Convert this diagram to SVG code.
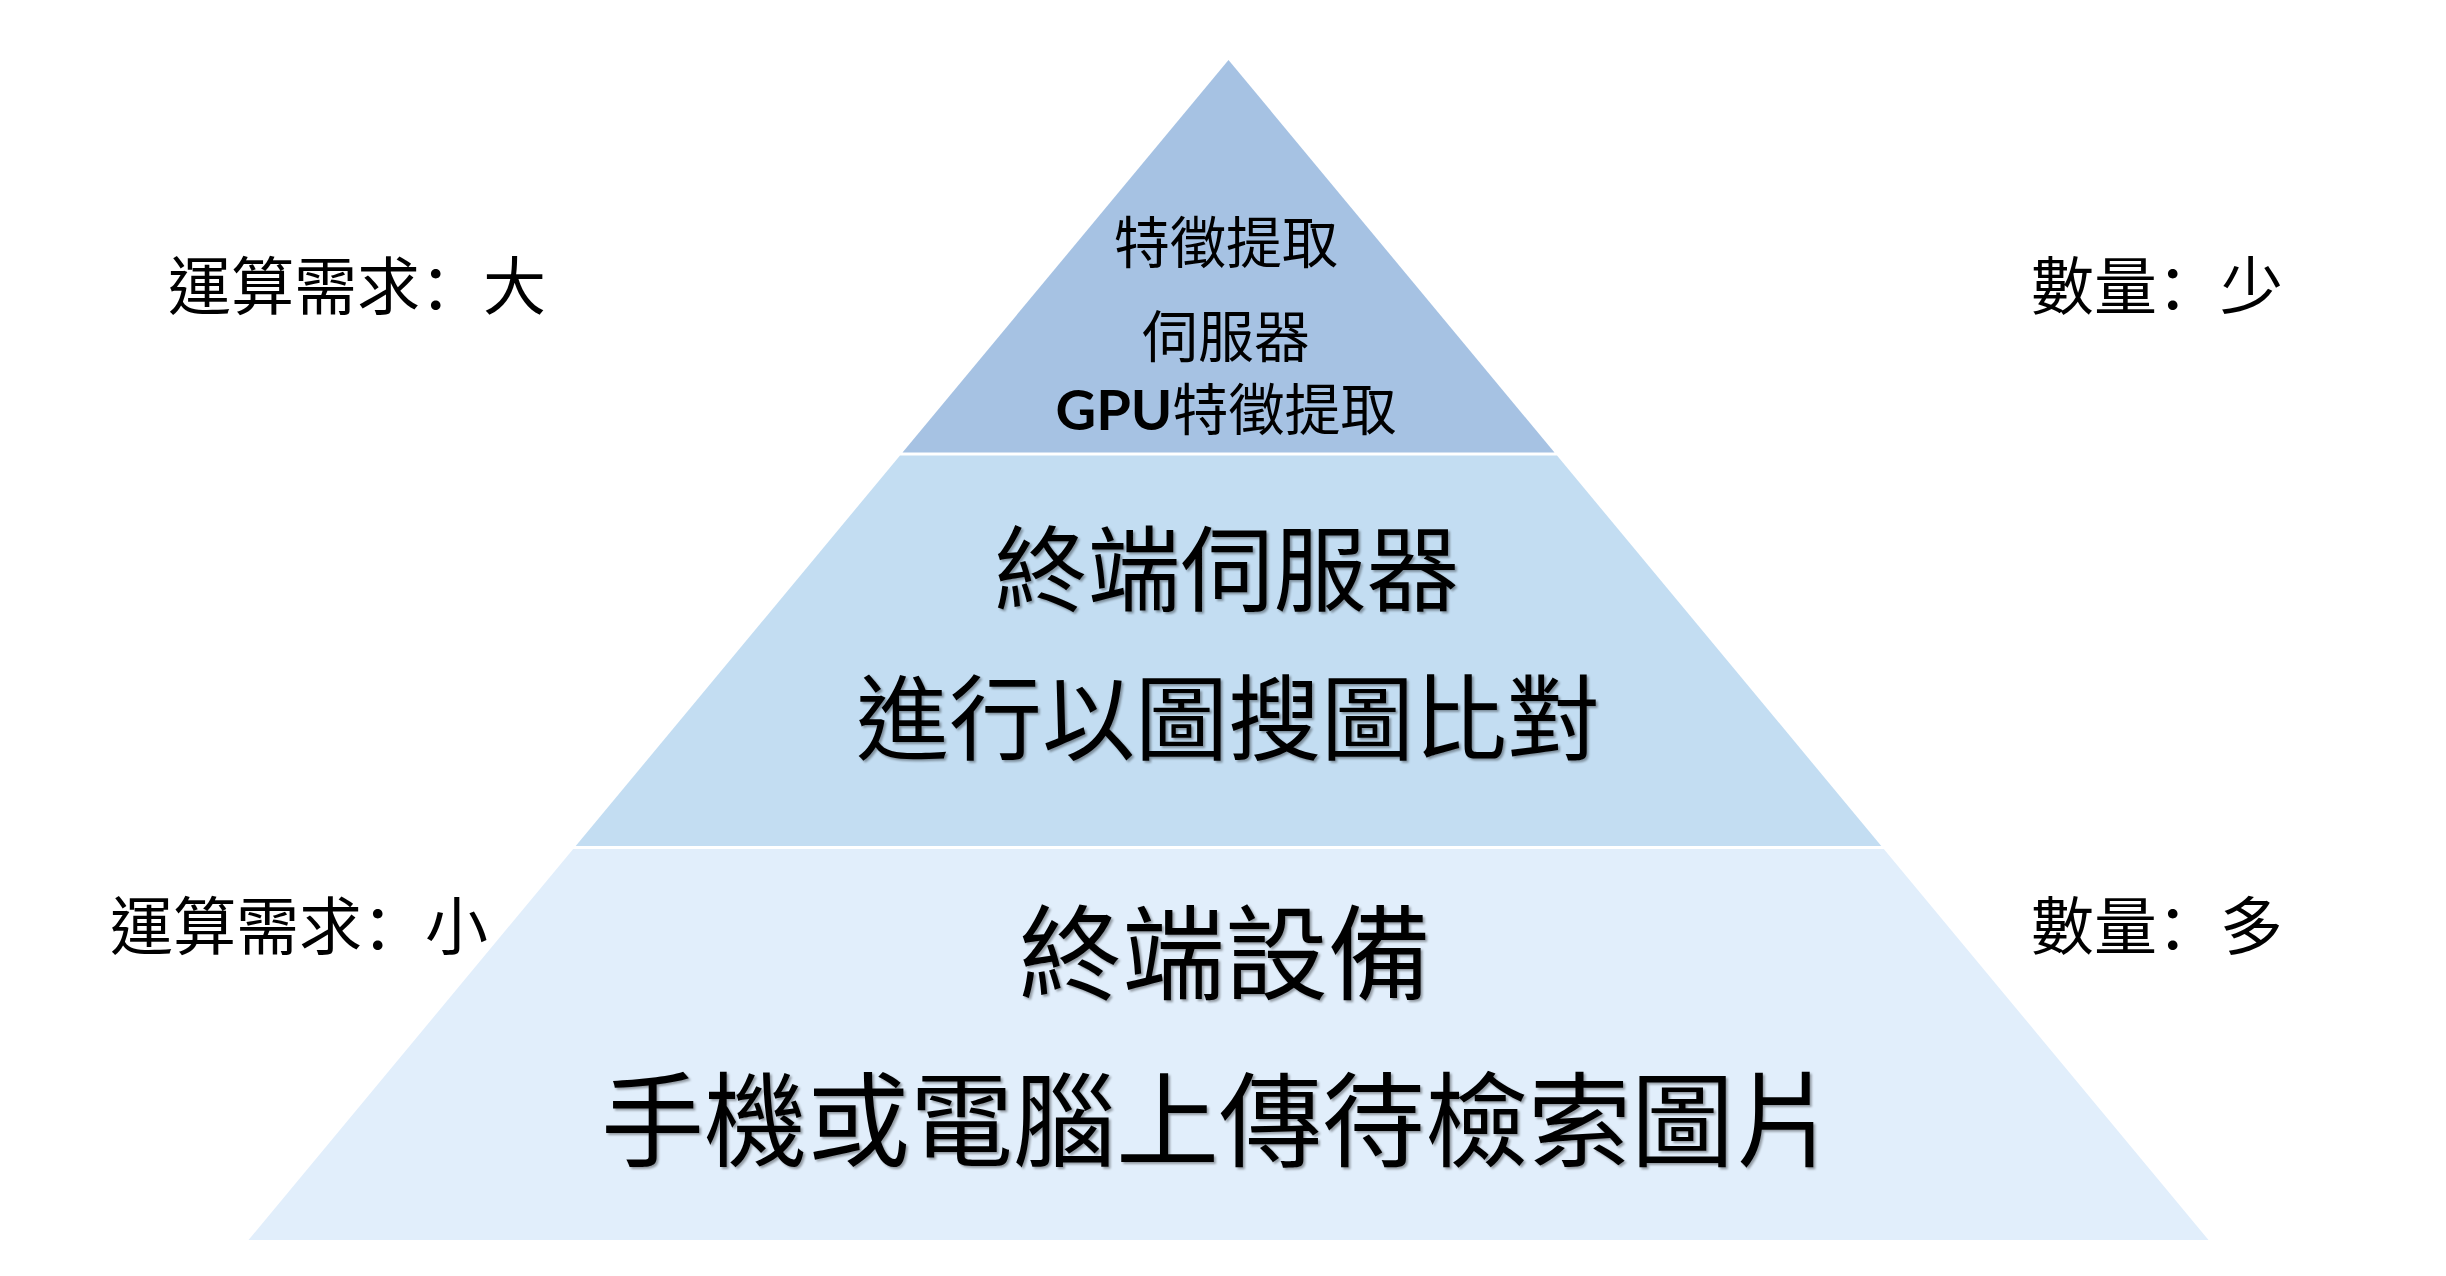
<svg xmlns="http://www.w3.org/2000/svg" width="2446" height="1276" viewBox="0 0 2446 1276">
<defs>
<style>
text{font-family:'Noto Sans CJK TC','Noto Sans CJK SC',sans-serif;fill:#000;text-anchor:middle}
.lbl{font-size:63px;text-anchor:start}
.colon{font-family:'Noto Sans CJK SC','Noto Sans CJK JP',sans-serif}
.top{font-size:56px}
.mid{font-size:93px;filter:url(#sh)}
.bot{font-size:103px;filter:url(#sh)}
.gpu{font-family:Lato,'Open Sans',sans-serif;font-weight:bold}
</style>
<filter id="sh" x="-5%" y="-20%" width="110%" height="140%">
<feDropShadow dx="2" dy="2" stdDeviation="1" flood-color="#000" flood-opacity="0.35"/>
</filter>
</defs>
<rect width="2446" height="1276" fill="#fff"/>
<g id="tier-top">
<polygon points="1228.5,60 1554.5,452.5 902.5,452.5" fill="#A6C2E3"/>
<text class="top" x="1226" y="263">特徵提取</text>
<text class="top" x="1226" y="357">伺服器</text>
<text class="top" x="1226" y="430"><tspan class="gpu">GPU</tspan>特徵提取</text>
</g>
<g id="tier-middle">
<polygon points="900,455.5 1557,455.5 1881.3,846 575.7,846" fill="#C3DDF2"/>
<text class="mid" x="1227" y="604">終端伺服器</text>
<text class="mid" x="1228" y="753">進行以圖搜圖比對</text>
</g>
<g id="tier-bottom">
<polygon points="573.2,849 1883.8,849 2208.5,1240 248.5,1240" fill="#E1EEFB"/>
<text class="bot" x="1225" y="992">終端設備</text>
<text class="bot" x="1219" y="1159">手機或電腦上傳待檢索圖片</text>
</g>
<g id="label-compute-high"><text class="lbl" x="168" y="309">運算需求<tspan class="colon">：</tspan>大</text></g>
<g id="label-count-few"><text class="lbl" x="2031" y="309">數量<tspan class="colon">：</tspan>少</text></g>
<g id="label-compute-low"><text class="lbl" x="110" y="949">運算需求<tspan class="colon">：</tspan>小</text></g>
<g id="label-count-many"><text class="lbl" x="2031" y="949">數量<tspan class="colon">：</tspan>多</text></g>
<g id="connectors"/>
</svg>
